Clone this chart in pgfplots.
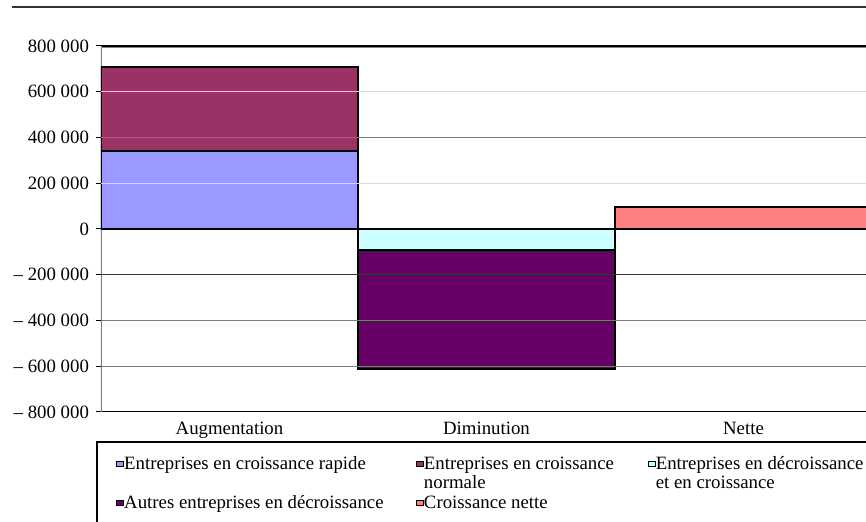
\documentclass[border=0pt]{standalone}
\usepackage{fontspec}
\setmainfont{Liberation Serif}
\usepackage{pgfplots}
\pgfplotsset{compat=1.18}

\definecolor{rapide}{HTML}{9999FF}
\definecolor{normale}{HTML}{993366}
\definecolor{decroit}{HTML}{CCFFFF}
\definecolor{autres}{HTML}{660066}
\definecolor{nette}{HTML}{FF8080}
\definecolor{gridlight}{HTML}{D9D9D9}
\definecolor{gridmid}{HTML}{7A7A7A}
\definecolor{griddark}{HTML}{333333}
\definecolor{frame}{HTML}{808080}

% legend text cell of fixed width and fixed height/depth
\newcommand\lgtext[2]{\makebox[#1][l]{\rule[-2.8pt]{0pt}{9.3pt}#2}}
% second line of a legend entry, taking no vertical room
\newcommand\second[1]{\rlap{\raisebox{-9.5pt}[0pt][0pt]{#1}}}

\pgfplotsset{
  seg/.style={fill=#1, draw=black, line width=0.6pt,
    legend image code/.code={\draw[fill=#1, draw=black, line width=0.4pt]
      (0pt,-1.25pt) rectangle (3.5pt,1.25pt);}},
}

\begin{document}
\begin{tikzpicture}[font=\fontsize{9.4pt}{11.3pt}\selectfont]
\clip (-50.5pt,-55pt) rectangle (382.5pt,206pt);
\begin{axis}[
  scale only axis, width=385.5pt, height=183pt,
  xmin=-0.5, xmax=2.5, ymin=-800000, ymax=800000,
  ybar stacked, bar width=1,
  axis line style={draw=none},
  xtick={0,1,2}, xticklabels={Augmentation,Diminution,Nette},
  x tick style={draw=none},
  x tick label style={yshift=1pt},
  ytick={-800000,-600000,-400000,-200000,0,200000,400000,600000,800000},
  yticklabels={– 800 000,– 600 000,– 400 000,– 200 000,0,200 000,400 000,600 000,800 000},
  scaled y ticks=false,
  ytick pos=left,
  y tick style={black, line width=0.5pt},
  tick align=outside, major tick length=2.5pt,
  legend columns=3,
  legend cell align=left,
  legend style={draw=none, fill=none, inner sep=0pt,
    at={(axis description cs:0,0)}, anchor=north west,
    xshift=7.5pt, yshift=-21.85pt,
    column sep=0pt, row sep=11.4pt,
    nodes={inner sep=0pt}},
]
% horizontal gridlines behind the bars
\draw[gridlight, line width=0.6pt] (axis cs:-0.5,600000) -- (axis cs:2.5,600000);
\draw[gridmid,   line width=0.6pt] (axis cs:-0.5,400000) -- (axis cs:2.5,400000);
\draw[gridlight, line width=0.6pt] (axis cs:-0.5,200000) -- (axis cs:2.5,200000);
\draw[black,     line width=0.6pt] (axis cs:-0.5,0) -- (axis cs:2.5,0);
\draw[griddark,  line width=0.6pt] (axis cs:-0.5,-200000) -- (axis cs:2.5,-200000);
\draw[gridmid,   line width=0.6pt] (axis cs:-0.5,-400000) -- (axis cs:2.5,-400000);
\draw[gridmid,   line width=0.6pt] (axis cs:-0.5,-600000) -- (axis cs:2.5,-600000);

\addplot[seg=rapide]  coordinates {(0,341000) (1,0) (2,0)};
\addlegendentry{\lgtext{146pt}{Entreprises en croissance rapide}}
\addplot[seg=normale] coordinates {(0,367000) (1,0) (2,0)};
\addlegendentry{\lgtext{112pt}{\second{normale}Entreprises en croissance}}
\addplot[seg=decroit] coordinates {(0,0) (1,-92000) (2,0)};
\addlegendentry{\lgtext{60pt}{\second{et en croissance}Entreprises en décroissance}}
\addplot[seg=autres]  coordinates {(0,0) (1,-520000) (2,0)};
\addlegendentry{\lgtext{146pt}{Autres entreprises en décroissance}}
\addplot[seg=nette]   coordinates {(0,0) (1,0) (2,96000)};
\addlegendentry{\lgtext{112pt}{Croissance nette}}

% frame of the plot area
\draw[frame, line width=1.4pt] (axis cs:-0.5,-800000) -- (axis cs:-0.5,800000);
\draw[black, line width=0.6pt] (axis cs:-0.5,800000) -- (axis cs:2.5,800000);
\draw[frame, line width=0.7pt] ([yshift=-0.8pt]axis cs:-0.5,800000) -- ([yshift=-0.8pt]axis cs:2.5,800000);
\draw[black, line width=0.6pt] (axis cs:-0.5,-800000) -- (axis cs:2.5,-800000);
\draw[frame, line width=0.7pt] ([yshift=-1.1pt]axis cs:-0.5,-800000) -- ([yshift=-1.1pt]axis cs:2.5,-800000);
\end{axis}
% rule above the chart
\draw[griddark, line width=1.3pt] (-44.5pt,202.5pt) -- (390pt,202.5pt);
% box around the legend
\draw[black, line width=0.7pt] (-2pt,-70pt) -- (-2pt,-15pt) -- (390pt,-15pt);
\end{tikzpicture}
\end{document}
